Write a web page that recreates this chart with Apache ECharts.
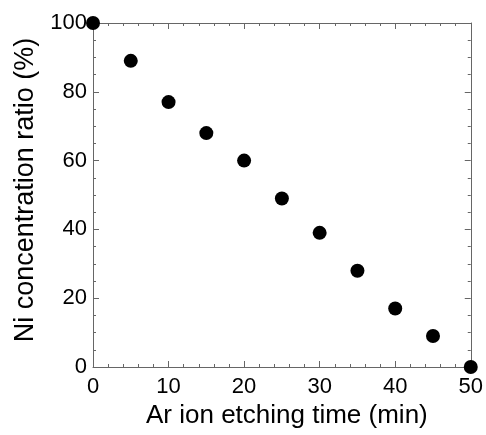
<!DOCTYPE html>
<html><head><meta charset="utf-8">
<script src="https://cdn.jsdelivr.net/npm/echarts@6/dist/echarts.min.js"></script>
<style>html,body{margin:0;padding:0;background:#fff}#c{width:486px;height:435px}</style>
</head><body><div id="c"></div>
<script>
const etchTime = [0, 5, 10, 15, 20, 25, 30, 35, 40, 45, 50];
const niRatio = [100, 89, 77, 68, 60, 49, 39, 28, 17, 9, 0];
const xTicks = [0, 10, 20, 30, 40, 50];
const yTicks = [0, 20, 40, 60, 80, 100];

const chart = echarts.init(document.getElementById('c'));
const lineC = '#666';
const font = 'Liberation Sans, Arial, sans-serif';
function axisBase(extra) {
  return Object.assign({
    type: 'value',
    axisLine: { show: true, onZero: false, lineStyle: { color: lineC, width: 1 } },
    axisTick: { show: true, inside: true, length: 6, lineStyle: { color: lineC } },
    minorTick: { show: true, length: 3, lineStyle: { color: lineC } },
    splitLine: { show: false },
    minorSplitLine: { show: false }
  }, extra);
}
chart.setOption({
  animation: false,
  grid: { left: 93, right: 13, top: 23, bottom: 68 },
  xAxis: [
    axisBase({ min: xTicks[0], max: xTicks[xTicks.length-1], interval: 10, position: 'bottom',
      minorTick: { show: true, splitNumber: 5, length: 3, lineStyle: { color: lineC } },
      axisLabel: { color: '#000', fontSize: 22, fontFamily: font, margin: 9 },
      name: 'Ar ion etching time (min)', nameLocation: 'middle', nameGap: 35,
      nameTextStyle: { color: '#000', fontSize: 26, fontFamily: font, padding: [0, 0, 0, 10] } }),
    axisBase({ min: xTicks[0], max: xTicks[xTicks.length-1], interval: 10, position: 'top',
      minorTick: { show: true, splitNumber: 5, length: 3, lineStyle: { color: lineC } },
      axisLabel: { show: false } })
  ],
  yAxis: [
    axisBase({ min: yTicks[0], max: yTicks[yTicks.length-1], interval: 20, position: 'left',
      minorTick: { show: true, splitNumber: 4, length: 3, lineStyle: { color: lineC } },
      axisLabel: { color: '#000', fontSize: 22, fontFamily: font, margin: 6 },
      name: 'Ni concentration ratio (%)', nameLocation: 'middle', nameGap: 52,
      nameTextStyle: { color: '#000', fontSize: 27, fontFamily: font, padding: [0, 0, 0, 10] } }),
    axisBase({ min: yTicks[0], max: yTicks[yTicks.length-1], interval: 20, position: 'right',
      minorTick: { show: true, splitNumber: 4, length: 3, lineStyle: { color: lineC } },
      axisLabel: { show: false } })
  ],
  series: [{
    type: 'scatter',
    data: etchTime.map((t, i) => [t, niRatio[i]]),
    symbol: 'circle',
    symbolSize: 14,
    itemStyle: { color: '#000', opacity: 1 },
    clip: false
  }]
});
</script></body></html>
